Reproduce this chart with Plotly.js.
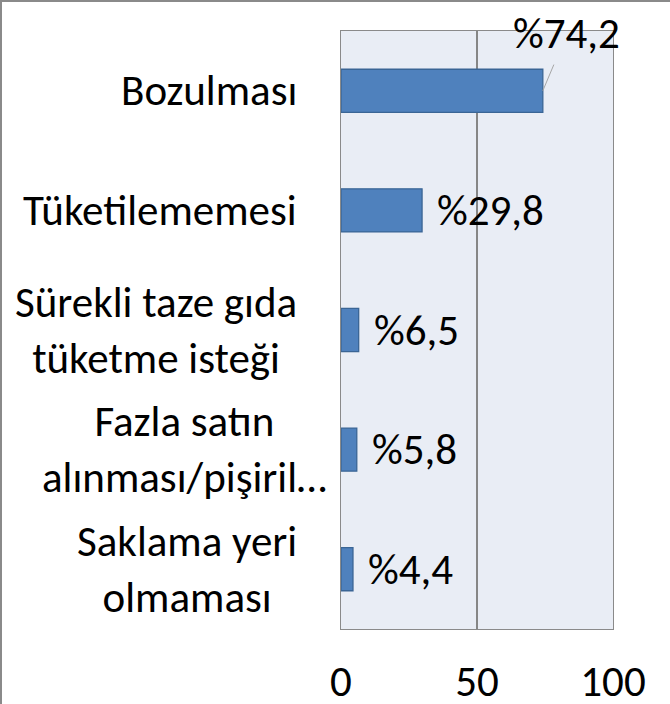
<!DOCTYPE html>
<html>
<head>
<meta charset="utf-8">
<script src="https://cdn.plot.ly/plotly-3.0.1.min.js"></script>
<style>
  html, body { margin: 0; padding: 0; background: #fff; }
  #wrap { position: relative; width: 670px; height: 704px; overflow: hidden; }
  #chart { position: absolute; left: 0; top: 0; width: 670px; height: 704px; }
  #frame { position: absolute; left: 0; top: 0; width: 670px; height: 704px; box-sizing: border-box;
           border-top: 2px solid #8a8a8a; border-left: 2px solid #8a8a8a; pointer-events: none; }
</style>
</head>
<body>
<div id="wrap"><div id="chart"></div><div id="frame"></div></div>
<script>
// Data
const categories = ["Bozulması", "Tüketilememesi", "Sürekli taze gıda tüketme isteği", "Fazla satın alınması/pişiril…", "Saklama yeri olmaması"];
const categoryLabels = ["Bozulması", "Tüketilememesi", "Sürekli taze gıda<br>tüketme isteği", "Fazla satın<br>alınması/pişiril…", "Saklama yeri<br>olmaması"];
const values = [74.2, 29.8, 6.5, 5.8, 4.4];
const valueLabels = ["%74,2", "%29,8", "%6,5", "%5,8", "%4,4"];
const xTicks = [0, 50, 100];

const FONT = "Carlito, Lato, 'Open Sans', sans-serif";
const FS = 43;

const trace = {
  type: "bar",
  orientation: "h",
  y: categories,
  x: values,
  marker: { color: "#4F81BD", line: { color: "#3A6595", width: 1.3 } },
  hoverinfo: "none"
};

const annotations = [];
// category labels (centered lines, right-aligned block)
categoryLabels.forEach((t, i) => {
  annotations.push({
    xref: "paper", yref: "y", x: 0, y: categories[i],
    xanchor: "right", yanchor: "middle", align: "center",
    xshift: i === 3 ? -12 : -42,
    text: t, showarrow: false,
    font: { family: FONT, size: FS, color: "#000" }
  });
});
// value labels
values.forEach((v, i) => {
  if (i === 0) {
    annotations.push({
      xref: "x", yref: "y", x: v, y: categories[i],
      text: valueLabels[i], showarrow: true, arrowhead: 0, arrowwidth: 1,
      arrowcolor: "#a6a6a6", ax: 24, ay: -57, startstandoff: 3,
      font: { family: FONT, size: FS, color: "#000" }
    });
  } else {
    annotations.push({
      xref: "x", yref: "y", x: v, y: categories[i],
      xanchor: "left", yanchor: "middle", xshift: 13,
      text: valueLabels[i], showarrow: false,
      font: { family: FONT, size: FS, color: "#000" }
    });
  }
});

const layout = {
  width: 670, height: 704,
  margin: { l: 341, r: 57, t: 31, b: 75, pad: 0 },
  paper_bgcolor: "#ffffff",
  plot_bgcolor: "#E9EDF5",
  showlegend: false,
  bargap: 0.64,
  font: { family: FONT, size: FS, color: "#000" },
  xaxis: {
    range: [0, 100], tickvals: xTicks, ticktext: xTicks.map(String),
    showgrid: true, gridcolor: "#868686", gridwidth: 1.3,
    zeroline: false, showline: true, linecolor: "#8a8a8a", linewidth: 1.3, mirror: true,
    ticks: "", ticklabelstandoff: 14,
    tickfont: { family: FONT, size: FS, color: "#000" },
    fixedrange: true
  },
  yaxis: {
    autorange: "reversed", type: "category",
    showticklabels: false, showgrid: false, zeroline: false,
    showline: true, linecolor: "#8a8a8a", linewidth: 1.3, mirror: true,
    ticks: "", fixedrange: true
  },
  annotations: annotations
};

Plotly.newPlot("chart", [trace], layout, { displayModeBar: false, staticPlot: true });
</script>
</body>
</html>
